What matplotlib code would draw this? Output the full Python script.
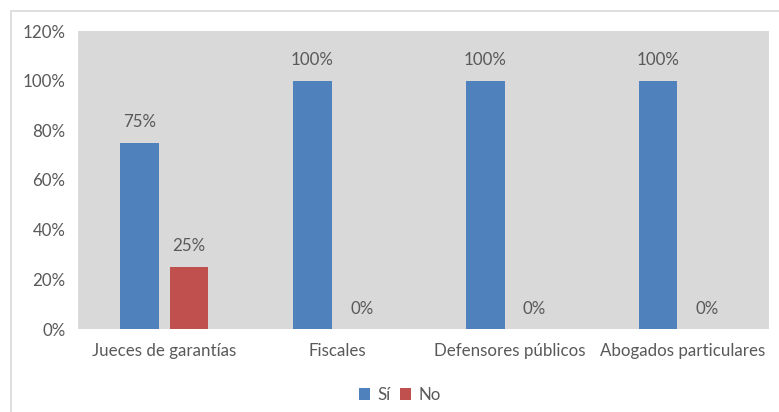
import matplotlib
matplotlib.use("Agg")
import matplotlib.pyplot as plt
import numpy as np
from matplotlib.patches import Rectangle

categories = ["Jueces de garantías", "Fiscales", "Defensores públicos", "Abogados particulares"]
si_values = [75, 100, 100, 100]
no_values = [25, 0, 0, 0]
series_names = ["Sí", "No"]
yticks = [0, 20, 40, 60, 80, 100, 120]

plt.rcParams['font.family'] = ['Lato', 'DejaVu Sans']
txt = '#595959'
fs = 12.2

W, H = 779, 412
fig = plt.figure(figsize=(W / 100, H / 100), dpi=100)
fig.patch.set_facecolor('white')
fig.patches.append(Rectangle((11 / W, -0.1), 2, (H - 11) / H + 0.1, transform=fig.transFigure,
                             fill=False, edgecolor='#d9d9d9', linewidth=1.2, figure=fig))

ax = fig.add_axes([78 / W, 1 - 329 / H, (769 - 78) / W, (329 - 31) / H])
ax.set_facecolor('#d9d9d9')

x = np.arange(len(categories))
bw = 0.224
off = 0.143
b1 = ax.bar(x - off, si_values, bw, color='#4f81bd', label=series_names[0])
b2 = ax.bar(x + off, no_values, bw, color='#c0504d', label=series_names[1])

for bars, vals in ((b1, si_values), (b2, no_values)):
    for r, v in zip(bars, vals):
        ax.annotate(f"{v}%", (r.get_x() + r.get_width() / 2, v), xytext=(0, 9),
                    textcoords='offset points', ha='center', va='bottom',
                    fontsize=fs, color=txt)

ax.set_xlim(-0.5, len(categories) - 0.5)
ax.set_ylim(0, 120)
ax.set_yticks(yticks)
ax.set_yticklabels([f"{t}%" for t in yticks], fontsize=fs, color=txt)
ax.set_xticks(x)
ax.set_xticklabels(categories, fontsize=fs, color=txt)
ax.tick_params(axis='both', length=0)
ax.tick_params(axis='y', pad=9)
ax.tick_params(axis='x', pad=10)
for s in ax.spines.values():
    s.set_visible(False)

fig.legend(handles=[b1, b2], labels=series_names, loc='center', bbox_to_anchor=(400 / W, 1 - 395 / H),
           ncol=2, frameon=False, fontsize=fs, handlelength=0.65, handleheight=0.65,
           handletextpad=0.4, columnspacing=0.6, labelcolor=txt)

fig.savefig("out.png", dpi=100, facecolor='white')
